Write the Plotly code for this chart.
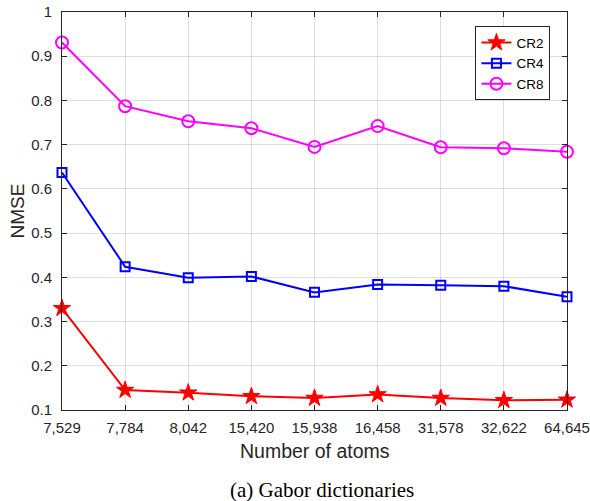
import plotly.graph_objects as go

atoms = ["7,529", "7,784", "8,042", "15,420", "15,938", "16,458", "31,578", "32,622", "64,645"]
cr2 = [0.330, 0.145, 0.139, 0.131, 0.127, 0.135, 0.127, 0.122, 0.123]
cr4 = [0.637, 0.424, 0.399, 0.402, 0.366, 0.384, 0.382, 0.380, 0.356]
cr8 = [0.931, 0.787, 0.753, 0.737, 0.695, 0.742, 0.694, 0.692, 0.684]
y_ticks = [0.1, 0.2, 0.3, 0.4, 0.5, 0.6, 0.7, 0.8, 0.9, 1.0]
y_ticktext = ["0.1", "0.2", "0.3", "0.4", "0.5", "0.6", "0.7", "0.8", "0.9", "1"]

ax_col = "#262626"
grid_col = "rgba(38,38,38,0.15)"

fig = go.Figure()
fig.add_trace(go.Scatter(x=atoms, y=cr2, name="CR2", mode="lines+markers",
                         line=dict(color="#ff0000", width=2),
                         marker=dict(symbol="star", size=13, color="#ff0000",
                                     line=dict(color="#ff0000", width=1)),
                         cliponaxis=False))
fig.add_trace(go.Scatter(x=atoms, y=cr4, name="CR4", mode="lines+markers",
                         line=dict(color="#0000ff", width=2),
                         marker=dict(symbol="square-open", size=9, color="#0000ff",
                                     line=dict(color="#0000ff", width=2)),
                         cliponaxis=False))
fig.add_trace(go.Scatter(x=atoms, y=cr8, name="CR8", mode="lines+markers",
                         line=dict(color="#ff00ff", width=2),
                         marker=dict(symbol="circle-open", size=12, color="#ff00ff",
                                     line=dict(color="#ff00ff", width=2)),
                         cliponaxis=False))

fig.update_layout(
    width=590, height=501,
    margin=dict(l=62, r=23, t=12, b=91),
    paper_bgcolor="white", plot_bgcolor="white",
    font=dict(family="Liberation Sans, Arial, sans-serif", color=ax_col, size=15),
    showlegend=True,
    legend=dict(x=0.8187, y=0.964, xanchor="left", yanchor="top",
                bgcolor="white", bordercolor=ax_col, borderwidth=1,
                font=dict(size=13.5, color="#000000"),
                tracegroupgap=0, itemwidth=30),
    xaxis=dict(type="category", categoryorder="array", categoryarray=atoms,
               range=[0, 8], showgrid=True, gridcolor=grid_col, gridwidth=1,
               showline=True, linecolor=ax_col, linewidth=1, mirror="ticks",
               ticks="inside", ticklen=5, tickcolor=ax_col, automargin=False,
               tickfont=dict(size=15, color=ax_col), ticklabelstandoff=4,
               zeroline=False),
    yaxis=dict(range=[0.1, 1.0], tickvals=y_ticks, ticktext=y_ticktext,
               showgrid=True, gridcolor=grid_col, gridwidth=1,
               showline=True, linecolor=ax_col, linewidth=1, mirror="ticks",
               ticks="inside", ticklen=5, tickcolor=ax_col, automargin=False,
               tickfont=dict(size=15, color=ax_col), ticklabelstandoff=6,
               zeroline=False),
)

fig.add_annotation(text="NMSE", xref="paper", yref="paper", x=-0.09, y=0.5,
                   xanchor="center", yanchor="middle", textangle=-90, showarrow=False,
                   font=dict(size=19, color=ax_col))
fig.add_annotation(text="Number of atoms", xref="paper", yref="paper", x=0.5, y=-0.102,
                   xanchor="center", yanchor="middle", showarrow=False,
                   font=dict(size=19.5, color=ax_col))
fig.add_annotation(text="(a) Gabor dictionaries", xref="paper", yref="paper", x=0.5146, y=-0.2,
                   xanchor="center", yanchor="middle", showarrow=False,
                   font=dict(size=21, color="#000000",
                             family="Liberation Serif, Times New Roman, serif"))

fig.write_html("out.html")
